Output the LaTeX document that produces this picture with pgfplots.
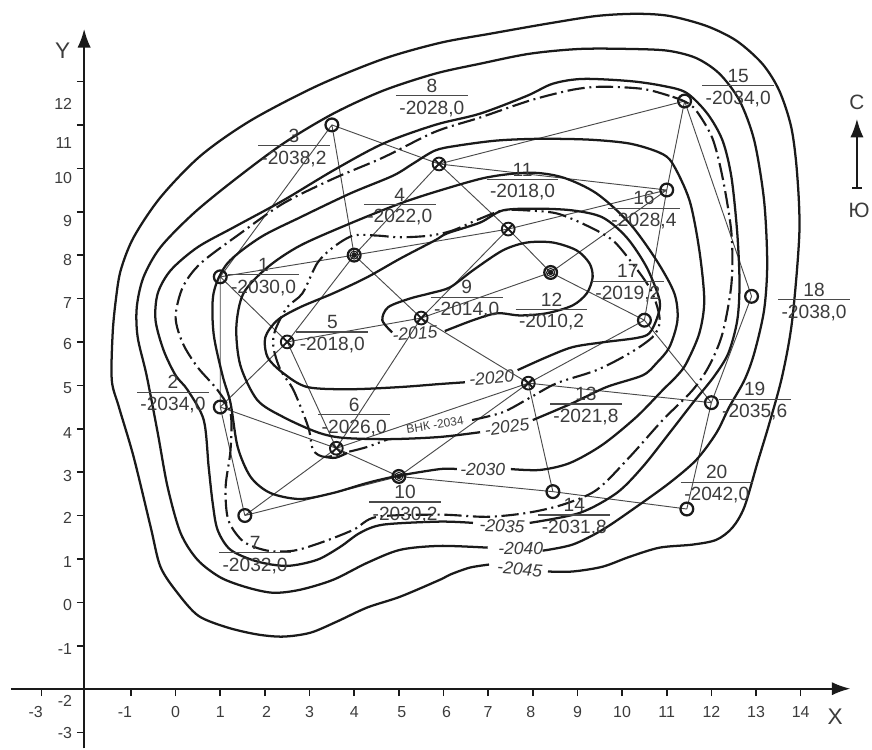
\documentclass[border=0pt]{standalone}
\usepackage{fontspec}
\setmainfont{Liberation Sans}
\usepackage{pgfplots}
\pgfplotsset{compat=1.18}
\usetikzlibrary{arrows.meta,plotmarks}

\definecolor{ink}{HTML}{1A1A1A}
\definecolor{lbl}{HTML}{3C3C3C}
\definecolor{lnk}{HTML}{4A4A4A}

% well label: number over a rule, depth under it
\newcommand{\wl}[4]{%
  \node[lbl14,anchor=base,yshift=2.5pt] at (axis cs:#1,#2) {#3};
  \node[lbl14,anchor=base,yshift=-13.8pt] at (axis cs:#1,#2) {#4};
  \node[inner sep=0pt,text=lnk] at (axis cs:#1,#2) {\rule{54pt}{0.9pt}};
}
% contour label
\newcommand{\cl}[4]{\node[iso,rotate=#3] at (axis cs:#1,#2) {#4};}
% y tick label moved down by #1 pt
\newcommand{\yl}[2]{\raisebox{-#1pt}[0pt][0pt]{#2}}
% x tick label moved sideways by #1 pt
\newcommand{\xl}[2]{\makebox[0pt][c]{\hspace{#1pt}#2}}

\begin{document}
\begin{tikzpicture}[
  lbl14/.style={font=\fontsize{14.4}{16}\selectfont,text=lbl,inner sep=0pt},
  iso/.style={font=\fontsize{13.2}{15}\selectfont\itshape,text=lbl,inner sep=0pt},
  cont/.style={smooth,line width=1.7pt,color=ink},
]
\begin{axis}[
  name=a,
  scale only axis,
  width=654pt,
  height=561.75pt,
  xmin=-3.911, xmax=15.575,
  ymin=-3.363, ymax=13.855,
  axis x line=bottom,
  axis y line=left,
  axis x line shift=-44.8pt,
  axis y line shift=-62.5pt,
  x axis line style={-{Latex[length=14pt,width=10pt]},line width=1.5pt,color=ink,shorten >=15.5pt,shorten <=7.5pt},
  y axis line style={-{Latex[length=14pt,width=10pt]},line width=1.5pt,color=ink,shorten >=21pt},
  tick align=outside,
  major tick length=5.5pt,
  tick style={line width=1.2pt,color=ink},
  xtick={-3,-1,0,1,2,3,4,5,6,7,8,9,10,11,12,13,14},
  xticklabels={\xl{-9}{-3},\xl{-9}{-1},0,1,\xl{2.5}{2},3,4,\xl{4.5}{5},\xl{4.5}{6},7,\xl{-3}{8},9,10,11,12,13,14},
  ytick={-3,-2,-1,0,1,2,3,4,5,6,7,8,9,10,11,12},
  yticklabels={\yl{4.8}{-3},\yl{13}{-2},\yl{6.3}{-1},\yl{6.3}{0},\yl{6.3}{1},\yl{6.3}{2},\yl{7}{3},\yl{7}{4},\yl{6.3}{5},\yl{5.6}{6},\yl{7.8}{7},\yl{7.8}{8},\yl{10.8}{9},\yl{11.5}{10},\yl{17.5}{11},\yl{21.3}{12}},
  tick label style={font=\fontsize{12}{14}\selectfont,text=lbl},
  xticklabel shift=4.5pt,
  clip=false,
  unbounded coords=jump,
]

% links between wells
\addplot[line width=0.7pt,color=lnk] coordinates {
 (1,7.5) (3.5,11) (nan,nan)
 (1,7.5) (4,8) (nan,nan)
 (1,7.5) (2.5,6) (nan,nan)
 (1,7.5) (1,4.5) (nan,nan)
 (1,4.5) (2.5,6) (nan,nan)
 (1,4.5) (3.6,3.55) (nan,nan)
 (1,4.5) (1.55,2) (nan,nan)
 (3.5,11) (4,8) (nan,nan)
 (3.5,11) (5.9,10.1) (nan,nan)
 (4,8) (2.5,6) (nan,nan)
 (4,8) (5.9,10.1) (nan,nan)
 (4,8) (5.5,6.55) (nan,nan)
 (4,8) (7.45,8.6) (nan,nan)
 (2.5,6) (3.6,3.55) (nan,nan)
 (2.5,6) (5.5,6.55) (nan,nan)
 (3.6,3.55) (1.55,2) (nan,nan)
 (3.6,3.55) (5.5,6.55) (nan,nan)
 (3.6,3.55) (5,2.9) (nan,nan)
 (3.6,3.55) (7.9,5.05) (nan,nan)
 (1.55,2) (5,2.9) (nan,nan)
 (5.9,10.1) (7.45,8.6) (nan,nan)
 (5.9,10.1) (11.4,11.55) (nan,nan)
 (5.9,10.1) (11,9.5) (nan,nan)
 (5.5,6.55) (7.45,8.6) (nan,nan)
 (5.5,6.55) (8.4,7.6) (nan,nan)
 (5.5,6.55) (7.9,5.05) (nan,nan)
 (5,2.9) (7.9,5.05) (nan,nan)
 (5,2.9) (8.45,2.55) (nan,nan)
 (7.45,8.6) (8.4,7.6) (nan,nan)
 (7.45,8.6) (11,9.5) (nan,nan)
 (8.4,7.6) (11,9.5) (nan,nan)
 (8.4,7.6) (10.5,6.5) (nan,nan)
 (7.9,5.05) (8.45,2.55) (nan,nan)
 (7.9,5.05) (10.5,6.5) (nan,nan)
 (7.9,5.05) (12,4.6) (nan,nan)
 (8.45,2.55) (11.45,2.15) (nan,nan)
 (11.4,11.55) (11,9.5) (nan,nan)
 (11.4,11.55) (12.9,7.05) (nan,nan)
 (11,9.5) (10.5,6.5) (nan,nan)
 (10.5,6.5) (12,4.6) (nan,nan)
 (12.9,7.05) (12,4.6) (nan,nan)
 (12,4.6) (11.45,2.15)
};

% -2045
\addplot[cont] coordinates {
 (8.34,0.71) (8.89,0.71) (9.56,0.82) (10.17,1.05) (10.84,1.26) (11.58,1.33) (12.11,1.44) (12.47,1.72)
 (12.74,2.20) (13.03,3.21) (13.30,4.13) (13.59,5.23) (13.81,6.50) (13.97,8.50) (13.92,9.88) (13.79,10.94)
 (13.52,11.79) (13.14,12.41) (12.56,12.94) (11.89,13.28) (11.06,13.51) (10.32,13.56) (9.43,13.51) (8.31,13.33)
 (7.04,13.10) (5.92,12.89) (4.65,12.52) (3.17,11.90) (1.68,11.10) (0.56,10.29) (-0.34,9.33) (-0.94,8.41)
 (-1.23,7.65) (-1.34,6.96) (-1.41,6.20) (-1.43,5.12) (-1.27,4.50) (-0.94,3.35) (-0.56,1.74) (-0.34,0.82)
 (0.04,0.22) (0.51,-0.31) (1.16,-0.58) (1.83,-0.74) (2.41,-0.79) (3.02,-0.70) (3.62,-0.44) (4.29,-0.12)
 (5.03,0.13) (5.92,0.52) (6.15,0.64) (6.59,0.80) (7.02,0.87)
};

% -2040
\addplot[cont] coordinates {
 (8.22,1.19) (8.89,1.33) (9.56,1.67) (10.32,2.20) (11.06,2.75) (11.66,3.28) (12.11,3.90) (12.40,4.50)
 (12.74,5.12) (12.96,5.74) (13.18,6.73) (13.25,7.81) (13.18,9.26) (12.96,10.64) (12.63,11.56) (12.18,12.18)
 (11.66,12.54) (11.02,12.71) (10.17,12.75) (9.05,12.75) (7.93,12.64) (6.82,12.41) (5.81,12.18) (4.65,11.79)
 (3.53,11.26) (2.41,10.57) (1.30,9.72) (0.40,8.96) (-0.34,8.18) (-0.72,7.49) (-0.87,6.80) (-0.85,6.11)
 (-0.65,5.23) (-0.40,3.90) (-0.18,2.66) (0.11,1.60) (0.49,0.98) (1.01,0.57) (1.61,0.34) (2.19,0.22)
 (2.79,0.29) (3.53,0.52) (4.29,0.91) (5.03,1.21) (5.92,1.30) (6.99,1.26)
};

% -2035
\addplot[cont] coordinates {
 (7.93,1.83) (9.05,2.06) (9.88,2.52) (10.46,3.12) (11.06,3.90) (11.58,4.59) (12.05,5.19) (12.38,5.74)
 (12.58,6.50) (12.63,7.35) (12.58,8.50) (12.45,9.79) (12.25,10.64) (11.91,11.26) (11.44,11.74) (10.91,11.90)
 (10.17,12.01) (9.12,12.06) (8.45,11.95) (7.87,11.67) (6.82,11.26) (5.81,11.0) (4.65,10.57) (3.53,9.95)
 (2.41,9.26) (1.30,8.64) (0.49,8.18) (-0.11,7.65) (-0.40,7.12) (-0.45,6.50) (-0.27,5.81) (0.0,5.23)
 (0.27,4.89) (0.63,4.20) (0.74,3.12) (0.83,2.29) (0.94,1.67) (1.23,1.21) (1.83,0.94) (2.50,0.84)
 (3.17,0.98) (3.69,1.28) (4.13,1.60) (4.65,1.79) (5.92,1.86) (6.66,1.83)
};

% outer dash-dot contour
\addplot[smooth cycle,line width=1.6pt,color=ink,dash pattern=on 13pt off 3.5pt on 1.5pt off 3.5pt] coordinates {
 (11.42,11.53) (11.06,11.67) (10.46,11.83) (9.56,11.88) (8.89,11.81) (7.93,11.56) (6.82,11.17) (5.81,10.84)
 (4.65,10.25) (3.53,9.76) (2.41,9.19) (1.45,8.50) (0.56,7.81) (0.16,7.26) (0.0,6.57) (0.16,5.97)
 (0.49,5.42) (0.94,4.89) (1.23,4.36) (1.23,3.51) (1.12,2.66) (1.18,1.90) (1.52,1.40) (2.06,1.19)
 (2.64,1.19) (3.24,1.37) (3.98,1.67) (4.51,1.97) (5.92,2.02) (6.97,1.97) (7.87,2.06) (8.67,2.25)
 (9.43,2.59) (10.17,3.35) (10.91,4.20) (11.58,4.89) (11.95,5.45) (12.25,6.20) (12.45,7.35) (12.45,8.50)
 (12.25,9.79) (12.02,10.70) (11.66,11.33)
};

% -2030
\addplot[cont] coordinates {
 (7.51,3.07) (8.16,3.05) (8.83,3.21) (9.56,3.63) (10.32,4.27) (10.91,4.89) (11.24,5.23) (11.44,5.51)
 (11.73,6.20) (11.84,6.96) (11.73,8.11) (11.51,9.26) (11.13,10.11) (10.84,10.36) (10.17,10.57) (9.27,10.66)
 (8.16,10.68) (7.20,10.64) (6.30,10.52) (5.81,10.41) (5.32,10.11) (4.87,9.83) (3.91,9.42) (2.79,8.87)
 (1.90,8.41) (1.16,7.81) (0.85,7.12) (0.85,6.20) (1.05,5.23) (1.23,4.59) (1.39,3.58) (1.68,2.89)
 (2.12,2.52) (2.79,2.38) (3.53,2.52) (4.29,2.75) (4.96,2.91) (5.92,3.07) (6.30,3.07)
};

% -2025
\addplot[cont] coordinates {
 (8.0,4.20) (8.89,4.59) (9.65,4.96) (10.46,5.23) (10.77,5.51) (11.06,5.88) (11.24,6.50) (11.17,7.12)
 (10.77,7.88) (10.17,8.73) (9.43,9.42) (8.67,9.79) (7.93,9.90) (6.97,9.79) (5.92,9.49) (5.03,9.19)
 (3.91,8.73) (2.79,8.22) (2.06,7.72) (1.52,7.12) (1.36,6.34) (1.45,5.46) (1.83,4.66) (2.41,4.27)
 (3.17,3.92) (3.75,3.79) (4.80,3.76) (5.92,3.81) (6.82,3.92)
};

% -2020
\addplot[cont] coordinates {
 (7.66,5.35) (8.31,5.65) (8.89,5.88) (9.56,5.99) (10.32,6.09) (10.61,6.20) (10.79,6.57) (10.84,6.96)
 (10.55,7.72) (10.10,8.41) (9.56,8.87) (8.89,9.03) (8.09,9.07) (7.33,9.03) (6.82,8.75) (6.08,8.50)
 (5.81,8.34) (5.03,7.92) (4.29,7.49) (3.53,7.12) (2.79,6.80) (2.28,6.50) (2.01,6.11) (2.06,5.65)
 (2.41,5.28) (2.95,4.96) (3.91,4.91) (5.03,4.96) (5.92,5.03) (6.48,5.07)
};

% -2015
\addplot[cont] coordinates {
 (6.03,6.25) (6.66,6.50) (7.20,6.66) (7.71,6.61) (8.31,6.66) (8.89,6.84) (9.21,7.12) (9.34,7.49)
 (9.27,7.81) (8.98,8.11) (8.45,8.29) (7.87,8.29) (7.33,8.11) (6.66,7.65) (6.15,7.26) (5.70,7.12)
 (5.25,7.00) (4.76,6.80) (4.63,6.50) (4.85,6.22)
};

% inner dash-dot-dot contour (VNK)
\addplot[smooth,line width=1.6pt,color=ink,dash pattern=on 14pt off 3.5pt on 1.5pt off 3.5pt on 1.5pt off 3.5pt] coordinates {
 (6.64,4.20) (7.33,4.38) (7.93,4.71) (8.54,5.05) (9.43,5.35) (10.17,5.74) (10.68,6.11) (10.84,6.43)
 (10.79,6.80) (10.61,7.26) (10.23,7.81) (9.79,8.34) (9.21,8.68) (8.54,8.96) (7.87,9.03) (7.33,9.03)
 (6.82,8.84) (6.21,8.57) (5.70,8.45) (5.03,8.41) (4.51,8.45) (3.98,8.45) (3.53,8.18) (3.17,7.81)
 (2.84,7.12) (2.50,6.80) (2.23,6.27) (2.19,5.88) (2.35,5.35) (2.64,4.89) (2.97,4.04) (3.08,3.51)
 (3.35,3.35) (3.84,3.46) (4.29,3.58) (4.76,3.76)
};
\addplot[cont] coordinates {(3.35,3.35) (3.58,3.33) (3.84,3.44)};

% wells
\addplot[only marks,mark=o,mark size=4.8pt,mark options={line width=1.7pt,color=ink}] coordinates {
 (1,7.5) (1,4.5) (3.5,11) (1.55,2) (8.45,2.55) (11.4,11.55) (11,9.5) (10.5,6.5) (12.9,7.05) (12,4.6) (11.45,2.15)
 (4,8) (5,2.9) (8.4,7.6)
};
\addplot[only marks,mark=otimes,mark size=4.8pt,mark options={line width=1.4pt,color=ink}] coordinates {
 (2.5,6) (3.6,3.55) (5.9,10.1) (5.5,6.55) (7.45,8.6) (7.9,5.05)
};
\addplot[only marks,mark=o,mark size=3pt,mark options={line width=0.8pt,color=ink}] coordinates {(4,8) (5,2.9) (8.4,7.6)};
\addplot[only marks,mark=*,mark size=1.8pt,mark options={color=ink}] coordinates {(4,8) (5,2.9) (8.4,7.6)};

% north arrow
\addplot[line width=1.5pt,color=ink,{Bar[width=7pt]}-{Latex[length=14pt,width=10pt]}] coordinates {(15.26,9.53) (15.26,11.14)};

\wl{1.97}{7.55}{1}{-2030,0}
\wl{-0.06}{4.84}{2}{-2034,0}
\wl{2.65}{10.52}{3}{-2038,2}
\wl{5.02}{9.17}{4}{-2022,0}
\wl{3.51}{6.23}{5}{-2018,0}
\wl{4.0}{4.32}{6}{-2026,0}
\wl{1.78}{1.14}{7}{-2032,0}
\wl{5.74}{11.67}{8}{-2028,0}
\wl{6.52}{7.03}{9}{-2014,0}
\wl{5.14}{2.31}{10}{-2030,2}
\wl{7.77}{9.74}{11}{-2018,0}
\wl{8.42}{6.75}{12}{-2010,2}
\wl{9.19}{4.57}{13}{-2021,8}
\wl{8.93}{2.01}{14}{-2031,8}
\wl{12.6}{11.9}{15}{-2034,0}
\wl{10.49}{9.08}{16}{-2028,4}
\wl{10.13}{7.4}{17}{-2019,2}
\wl{14.3}{6.97}{18}{-2038,0}
\wl{12.97}{4.68}{19}{-2035,6}
\wl{12.12}{2.77}{20}{-2042,0}

\cl{5.36}{6.2}{5}{-2015}
\cl{7.08}{5.17}{5}{-2020}
\cl{7.42}{4.04}{8}{-2025}
\cl{6.88}{3.07}{0}{-2030}
\cl{7.31}{1.76}{-3}{-2035}
\cl{7.73}{1.24}{0}{-2040}
\cl{7.71}{0.77}{-5}{-2045}
\node[font=\fontsize{9}{10}\selectfont,text=lbl,rotate=9,inner sep=0pt] at (axis cs:5.81,4.09) {ВНК -2034};

\node[font=\fontsize{17}{19}\selectfont,text=lbl,inner sep=0pt] at (axis cs:-2.53,12.7) {Y};
\node[font=\fontsize{17}{19}\selectfont,text=lbl,inner sep=0pt] at (axis cs:14.77,-2.63) {X};
\node[font=\fontsize{15.6}{18}\selectfont,text=lbl,inner sep=0pt] at (axis cs:15.26,11.51) {С};
\node[font=\fontsize{15.6}{18}\selectfont,text=lbl,inner sep=0pt] at (axis cs:15.31,9.03) {Ю};
\end{axis}
\path (a.south west) rectangle (a.north east);
\end{tikzpicture}
\end{document}
